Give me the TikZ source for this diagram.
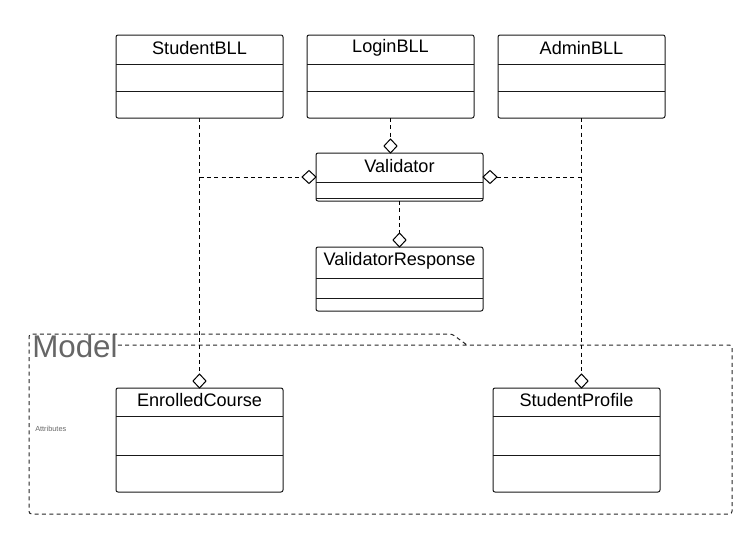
\documentclass[tikz,border=0pt]{standalone}
\usepackage{fontspec}
\setmainfont{Liberation Sans}
\usetikzlibrary{calc}
\tikzset{
 clsbox/.style={draw=black!90, line width=0.75pt, rounded corners=1.5pt, inner sep=0pt, outer sep=0pt},
 clsline/.style={draw=black!90, line width=0.75pt},
 clstitle/.style={font=\fontsize{13.6}{16}\selectfont, inner sep=0pt},
 dep/.style={draw=black, line width=0.7pt, dash pattern=on 3pt off 2.5pt},
 agg/.style={draw=black, fill=white, line width=0.75pt, line join=miter},
 pkg/.style={draw=black!85, line width=0.75pt, dash pattern=on 3pt off 2.5pt},
}
\newcommand\umlcls[8]{%
 \node[clsbox, anchor=north west, minimum width={(#4-#2)*0.75pt}, minimum height={(#5-#3)*0.75pt}] (#1) at (#2,#3) {};
 \draw[clsline] (#2,#6) -- (#4,#6);
 \draw[clsline] (#2,#7) -- (#4,#7);
 \node[clstitle] (#1-t) at ({(#2+#4)/2},{(#3+#6)/2-1.5}) {#8};
}
\begin{document}
\begin{tikzpicture}[x=0.75pt,y=-0.75pt]
\useasboundingbox (0,0) rectangle (756,536);
% package
\node[anchor=base west, inner sep=0pt, text=black!60, font=\fontsize{23.5}{28}\selectfont] (model) at (32,357) {Model};
\coordinate (pk1) at (29,345);
\draw[pkg, rounded corners=2pt] (model.east |- pk1) -- (732,345) -- (732,514) -- (29,514) -- (29,334) -- (452,334) -- (467,345);
\node[anchor=west, inner sep=0pt, text=black!60, font=\fontsize{5.5}{6}\selectfont] (attr) at (35,429) {Attributes};
% classes
\umlcls{sbll}{116}{35}{283}{118}{64}{91.5}{StudentBLL}
\umlcls{lbll}{307}{35}{474}{118}{64}{91.5}{LoginBLL}
\umlcls{abll}{498}{35}{665}{118}{64}{91.5}{AdminBLL}
\umlcls{val}{316}{153}{483}{201}{182}{198}{Validator}
\umlcls{vr}{316}{247}{483}{311}{278}{298}{ValidatorResponse}
\umlcls{ec}{116}{388}{283}{492}{416}{455}{EnrolledCourse}
\umlcls{sp}{493}{388}{660}{492}{416}{455}{StudentProfile}
% connector coordinates
\coordinate (ecd) at ($(ec.north)+(0,-14)$);
\coordinate (spd) at (581.5,374);
\coordinate (spt) at (581.5,388);
\coordinate (vtd) at ($(val.north -| lbll.south)+(0,-14)$);
\coordinate (vtt) at (val.north -| lbll.south);
\coordinate (vrd) at ($(vr.north -| val.south)+(0,-14)$);
\coordinate (vrt) at (vr.north -| val.south);
\coordinate (vld) at ($(val.west)+(-14,0)$);
\coordinate (vrtd) at ($(val.east)+(14,0)$);
\coordinate (lb) at (sbll.south |- val.west);
\coordinate (rb) at (abll.south |- val.east);
% dashed lines
\draw[dep] (sbll.south) -- (ecd);
\draw[dep] (lb) -- (vld);
\draw[dep] (abll.south) -- (spd);
\draw[dep] (rb) -- (vrtd);
\draw[dep] (lbll.south) -- (vtd);
\draw[dep] (val.south) -- (vrd);
% diamonds
\draw[agg] (ec.north) -- ++(-6.5,-7) -- ++(6.5,-7) -- ++(6.5,7) -- cycle;
\draw[agg] (spt) -- ++(-6.5,-7) -- ++(6.5,-7) -- ++(6.5,7) -- cycle;
\draw[agg] (vtt) -- ++(-6.5,-7) -- ++(6.5,-7) -- ++(6.5,7) -- cycle;
\draw[agg] (vrt) -- ++(-6.5,-7) -- ++(6.5,-7) -- ++(6.5,7) -- cycle;
\draw[agg] (val.west) -- ++(-7,-6.5) -- ++(-7,6.5) -- ++(7,6.5) -- cycle;
\draw[agg] (val.east) -- ++(7,-6.5) -- ++(7,6.5) -- ++(-7,6.5) -- cycle;
\end{tikzpicture}
\end{document}
